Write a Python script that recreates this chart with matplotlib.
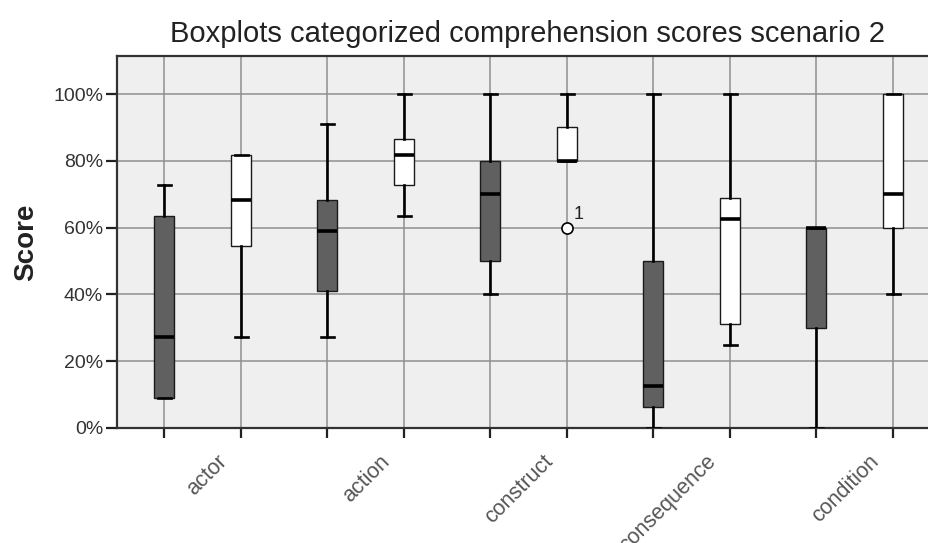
import matplotlib
matplotlib.use("Agg")
import matplotlib.pyplot as plt
from matplotlib.transforms import blended_transform_factory, ScaledTranslation

plt.rcParams['font.family'] = ['Liberation Sans', 'DejaVu Sans']

categories = ['actor', 'action', 'construct', 'consequence', 'condition']

# dark (first) boxes per category, in %
dark_whislo = [9.1, 27.3, 40.0, 0.0, 0.0]
dark_q1 = [9.1, 40.9, 50.0, 6.25, 30.0]
dark_med = [27.3, 59.1, 70.0, 12.5, 60.0]
dark_q3 = [63.6, 68.2, 80.0, 50.0, 60.0]
dark_whishi = [72.7, 90.9, 100.0, 100.0, 60.0]

# white (second) boxes per category, in %
white_whislo = [27.3, 63.6, 80.0, 25.0, 40.0]
white_q1 = [54.5, 72.7, 80.0, 31.25, 60.0]
white_med = [68.2, 81.8, 80.0, 62.5, 70.0]
white_q3 = [81.8, 86.4, 90.0, 68.75, 100.0]
white_whishi = [81.8, 100.0, 100.0, 100.0, 100.0]
white_fliers = [[], [], [60.0], [], []]
white_flier_labels = [[], [], ['1'], [], []]

yticks = [0, 20, 40, 60, 80, 100]

W, H = 929, 543
fig = plt.figure(figsize=(W / 100, H / 100), dpi=100)
left_px, right_px, top_px, bot_px = 117, 939, 56, 428
ax = fig.add_axes([left_px / W, (H - bot_px) / H, (right_px - left_px) / W, (bot_px - top_px) / H])
ax.set_facecolor('#EFEFEF')

off = 0.236
n = len(categories)
dark_pos = [i - off for i in range(n)]
white_pos = [i + off for i in range(n)]

def stats(lo, q1, med, q3, hi, fl):
    return [dict(whislo=a, q1=b, med=c, q3=d, whishi=e, fliers=f)
            for a, b, c, d, e, f in zip(lo, q1, med, q3, hi, fl)]

common = dict(widths=0.125, capwidths=0.08, patch_artist=True, manage_ticks=False,
              whiskerprops=dict(color='black', linewidth=1.9),
              capprops=dict(color='black', linewidth=1.9),
              medianprops=dict(color='black', linewidth=2.6),
              flierprops=dict(marker='o', markerfacecolor='white', markeredgecolor='black',
                              markersize=8, markeredgewidth=1.2),
              zorder=3)

ax.bxp(stats(dark_whislo, dark_q1, dark_med, dark_q3, dark_whishi, [[]] * n),
       positions=dark_pos,
       boxprops=dict(facecolor='#606060', edgecolor='#1a1a1a', linewidth=1.0), **common)
ax.bxp(stats(white_whislo, white_q1, white_med, white_q3, white_whishi, white_fliers),
       positions=white_pos,
       boxprops=dict(facecolor='white', edgecolor='#1a1a1a', linewidth=1.0), **common)

for i, (vals, labs) in enumerate(zip(white_fliers, white_flier_labels)):
    for v, lab in zip(vals, labs):
        ax.annotate(lab, (white_pos[i], v), xytext=(5, 3), textcoords='offset points',
                    fontsize=13, color='#222222', ha='left', va='bottom')

ax.set_xlim(-0.525, 4.518)
ax.set_ylim(0, 111.4)
ax.set_xticks(dark_pos + white_pos)
ax.set_xticklabels([])
ax.set_yticks(yticks)
ax.set_yticklabels([f'{v}%' for v in yticks], fontsize=14, color='#333333')
ax.tick_params(axis='x', direction='out', length=7, width=1.6, color='#222222')
ax.tick_params(axis='y', direction='out', length=8, width=1.6, color='#222222', pad=2)
ax.grid(True, color='#8f8f8f', linewidth=1.1)
ax.set_axisbelow(True)
for s in ax.spines.values():
    s.set_color('#333333')
    s.set_linewidth(1.6)

trans = blended_transform_factory(ax.transData, ax.transAxes) + ScaledTranslation(14 / 100, -23 / 100, fig.dpi_scale_trans)
for i, c in enumerate(categories):
    ax.text(i, 0, c, transform=trans, rotation=45, rotation_mode='anchor',
            ha='right', va='top', fontsize=15.5, color='#555555')

ax.set_ylabel('Score', fontsize=20, fontweight='bold', color='#222222', labelpad=10)
ax.set_title('Boxplots categorized comprehension scores scenario 2', fontsize=21,
             color='#222222', pad=10)

fig.savefig('out.png', dpi=100)
